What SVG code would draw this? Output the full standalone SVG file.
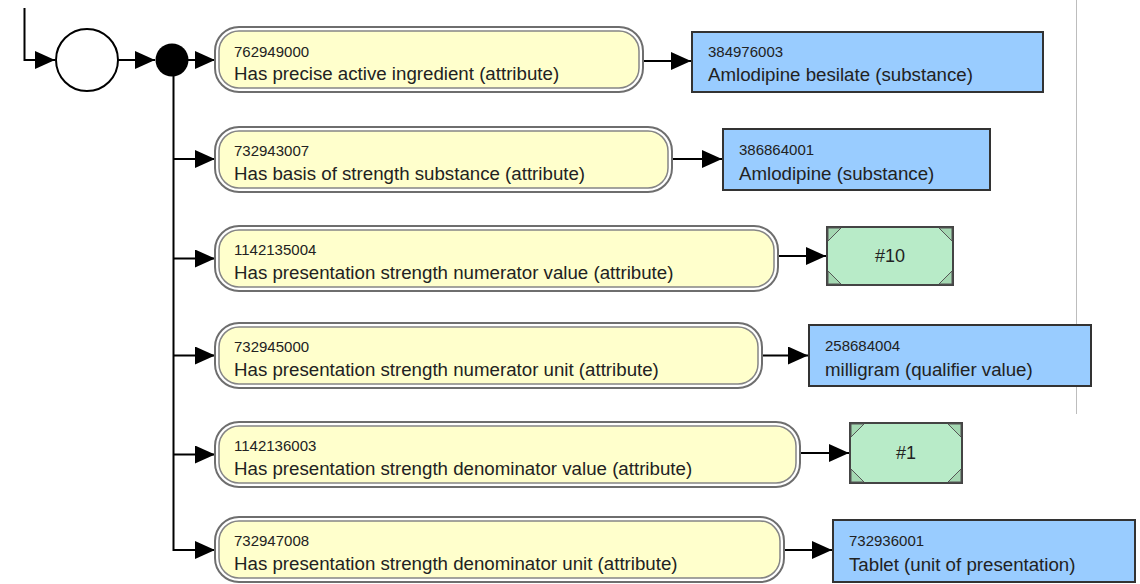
<svg xmlns="http://www.w3.org/2000/svg" width="1140" height="584" viewBox="0 0 1140 584">
  <style>
    .edge { fill: none; stroke: #000; stroke-width: 2; }
    .pill-out { fill: #fff; stroke: #6e6e6e; stroke-width: 2; }
    .pill-in { fill: #ffffcc; stroke: #858585; stroke-width: 1.5; }
    .concept { fill: #99ccff; stroke: #333; stroke-width: 2; }
    .value { fill: #b8ebc8; stroke: #444; stroke-width: 2; }
    .corner { fill: #a4d8b2; stroke: #555; stroke-width: 1; }
    .sid { font-family: "Liberation Sans", Arial, sans-serif; font-size: 15px; fill: #222; }
    .term { font-family: "Liberation Sans", Arial, sans-serif; font-size: 18.7px; fill: #222; }
    .num { font-family: "Liberation Sans", Arial, sans-serif; font-size: 18px; fill: #222; text-anchor: middle; }
  </style>
  <defs>
    <marker id="arrow" viewBox="0 0 20 18" refX="20" refY="9" markerWidth="20" markerHeight="18" markerUnits="userSpaceOnUse" orient="auto">
      <path d="M0,0 L20,9 L0,18 z" fill="#000"/>
    </marker>
  </defs>

  <rect width="1140" height="584" fill="#fff"/>
  <!-- panel divider -->
  <line x1="1076.5" y1="0" x2="1076.5" y2="414" stroke="#bdbdbd" stroke-width="1"/>

  <g id="connectors">
    <path class="edge" d="M24.5,8 V60 H55" marker-end="url(#arrow)"/>
    <path class="edge" d="M118,60 H155" marker-end="url(#arrow)"/>
    <path class="edge" d="M188,60 H215" marker-end="url(#arrow)"/>
    <path class="edge" d="M173.5,60 V551"/>
    <path class="edge" d="M173.5,159 H215" marker-end="url(#arrow)"/>
    <path class="edge" d="M173.5,258.5 H215" marker-end="url(#arrow)"/>
    <path class="edge" d="M173.5,355.5 H215" marker-end="url(#arrow)"/>
    <path class="edge" d="M173.5,454.5 H215" marker-end="url(#arrow)"/>
    <path class="edge" d="M173.5,550 H215" marker-end="url(#arrow)"/>
    <path class="edge" d="M643,61 H691" marker-end="url(#arrow)"/>
    <path class="edge" d="M672,159 H722" marker-end="url(#arrow)"/>
    <path class="edge" d="M778,256 H826" marker-end="url(#arrow)"/>
    <path class="edge" d="M762,355.5 H808" marker-end="url(#arrow)"/>
    <path class="edge" d="M800,453 H849" marker-end="url(#arrow)"/>
    <path class="edge" d="M784,550 H832" marker-end="url(#arrow)"/>
  </g>

  <g id="group-start">
    <circle cx="87" cy="60" r="31" fill="#fff" stroke="#000" stroke-width="2"/>
  </g>
  <g id="conjunction">
    <circle cx="172" cy="60" r="16.5" fill="#000"/>
  </g>

  <g id="attr-762949000">
    <rect class="pill-out" x="215" y="27" width="428" height="65" rx="24"/>
    <rect class="pill-in" x="219" y="31" width="420" height="57" rx="20"/>
    <text class="sid" x="234" y="57">762949000</text>
    <text class="term" x="234" y="80">Has precise active ingredient (attribute)</text>
  </g>
  <g id="concept-384976003">
    <rect class="concept" x="692" y="32" width="351" height="60"/>
    <text class="sid" x="708" y="57">384976003</text>
    <text class="term" x="708" y="81">Amlodipine besilate (substance)</text>
  </g>

  <g id="attr-732943007">
    <rect class="pill-out" x="215" y="127" width="457" height="65" rx="24"/>
    <rect class="pill-in" x="219" y="131" width="449" height="57" rx="20"/>
    <text class="sid" x="234" y="156">732943007</text>
    <text class="term" x="234" y="180">Has basis of strength substance (attribute)</text>
  </g>
  <g id="concept-386864001">
    <rect class="concept" x="723" y="129" width="267" height="61"/>
    <text class="sid" x="739" y="155">386864001</text>
    <text class="term" x="739" y="180">Amlodipine (substance)</text>
  </g>

  <g id="attr-1142135004">
    <rect class="pill-out" x="215" y="226" width="563" height="65" rx="24"/>
    <rect class="pill-in" x="219" y="230" width="555" height="57" rx="20"/>
    <text class="sid" x="234" y="255">1142135004</text>
    <text class="term" x="234" y="279">Has presentation strength numerator value (attribute)</text>
  </g>
  <g id="value-10">
    <rect class="value" x="827" y="227" width="126" height="58"/>
    <path class="corner" d="M828,228 h13 l-13,13 z M952,228 h-13 l13,13 z M828,284 h13 l-13,-13 z M952,284 h-13 l13,-13 z"/>
    <text class="num" x="890" y="262">#10</text>
  </g>

  <g id="attr-732945000">
    <rect class="pill-out" x="215" y="323" width="547" height="65" rx="24"/>
    <rect class="pill-in" x="219" y="327" width="539" height="57" rx="20"/>
    <text class="sid" x="234" y="352">732945000</text>
    <text class="term" x="234" y="376">Has presentation strength numerator unit (attribute)</text>
  </g>
  <g id="concept-258684004">
    <rect class="concept" x="809" y="325" width="282" height="61"/>
    <text class="sid" x="825" y="351">258684004</text>
    <text class="term" x="825" y="376">milligram (qualifier value)</text>
  </g>

  <g id="attr-1142136003">
    <rect class="pill-out" x="215" y="422" width="585" height="65" rx="24"/>
    <rect class="pill-in" x="219" y="426" width="577" height="57" rx="20"/>
    <text class="sid" x="234" y="451">1142136003</text>
    <text class="term" x="234" y="475">Has presentation strength denominator value (attribute)</text>
  </g>
  <g id="value-1">
    <rect class="value" x="850" y="423" width="112" height="60"/>
    <path class="corner" d="M851,424 h13 l-13,13 z M961,424 h-13 l13,13 z M851,482 h13 l-13,-13 z M961,482 h-13 l13,-13 z"/>
    <text class="num" x="906" y="459">#1</text>
  </g>

  <g id="attr-732947008">
    <rect class="pill-out" x="215" y="517" width="569" height="65" rx="24"/>
    <rect class="pill-in" x="219" y="521" width="561" height="57" rx="20"/>
    <text class="sid" x="234" y="546">732947008</text>
    <text class="term" x="234" y="570">Has presentation strength denominator unit (attribute)</text>
  </g>
  <g id="concept-732936001">
    <rect class="concept" x="833" y="520" width="302" height="62"/>
    <text class="sid" x="849" y="546">732936001</text>
    <text class="term" x="849" y="571">Tablet (unit of presentation)</text>
  </g>
</svg>
